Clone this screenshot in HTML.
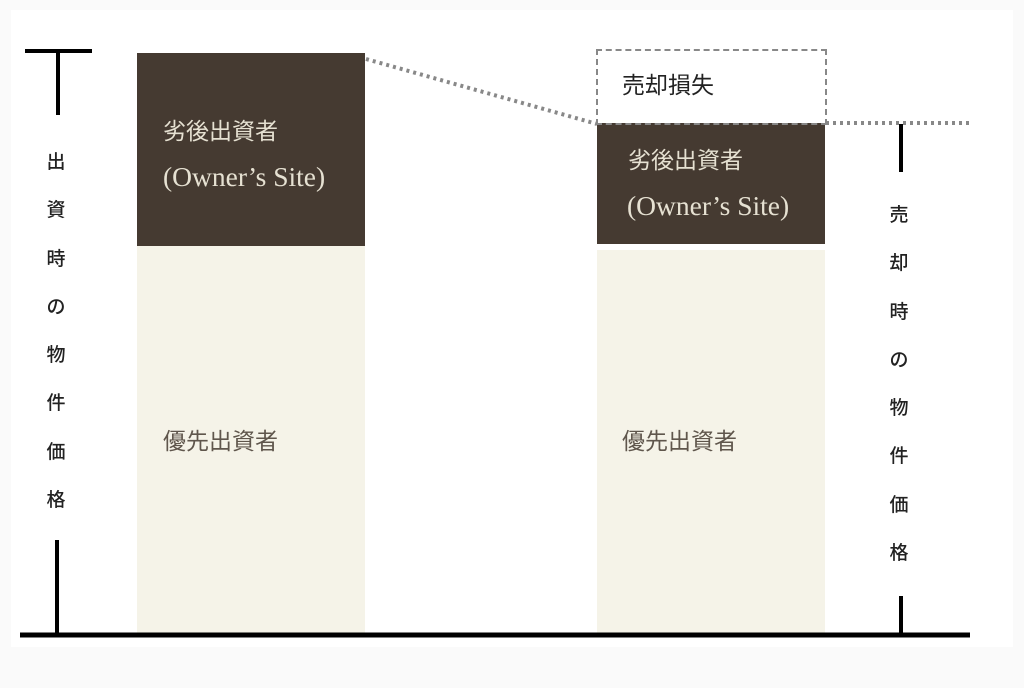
<!DOCTYPE html>
<html><head><meta charset="utf-8"><style>
html,body{margin:0;padding:0}
body{width:1024px;height:688px;background:#fafafa;position:relative;overflow:hidden;font-family:"Liberation Serif","Noto Sans CJK JP",serif}
.a{position:absolute}
.jp{font-family:"Liberation Serif","Noto Sans CJK JP",sans-serif}
.v{position:absolute;width:30px;text-align:center;font-family:"Noto Sans CJK JP",sans-serif;font-size:19px;color:#222;line-height:48.3px;font-weight:500}
</style></head><body>
<div class="a" style="left:11px;top:10px;width:1002px;height:637px;background:#fff"></div>
<div class="a" style="left:137px;top:53px;width:228px;height:193px;background:#453a31"></div>
<div class="a" style="left:137px;top:246px;width:228px;height:387px;background:#f5f3e8"></div>
<div class="a" style="left:597px;top:123px;width:228px;height:121px;background:#453a31"></div>
<div class="a" style="left:597px;top:250px;width:228px;height:383px;background:#f5f3e8"></div>
<div class="a" style="left:596px;top:49px;width:227px;height:72px;border:2px dashed #888"></div>
<svg class="a" style="left:0;top:0" width="1024" height="688">
<line x1="366" y1="59" x2="597" y2="124" stroke="#888" stroke-width="4" stroke-dasharray="3 4"/>
<line x1="826" y1="123" x2="972" y2="123" stroke="#888" stroke-width="4" stroke-dasharray="3 4"/>
<line x1="20" y1="635" x2="970" y2="635" stroke="#000" stroke-width="5"/>
<line x1="25" y1="51" x2="92" y2="51" stroke="#000" stroke-width="4"/>
<line x1="58" y1="51" x2="58" y2="115" stroke="#000" stroke-width="4"/>
<line x1="57" y1="540" x2="57" y2="635" stroke="#000" stroke-width="4"/>
<line x1="901" y1="124" x2="901" y2="172" stroke="#000" stroke-width="4"/>
<line x1="901" y1="596" x2="901" y2="635" stroke="#000" stroke-width="4"/>
</svg>
<div class="a jp" style="left:163px;top:116px;color:#e6e1d2;font-size:23px;line-height:32px">劣後出資者</div>
<div class="a" style="left:163px;top:161px;color:#e6e1d2;font-size:27.5px;font-family:'Liberation Serif',serif">(Owner’s Site)</div>
<div class="a jp" style="left:628px;top:145px;color:#e6e1d2;font-size:23px;line-height:32px">劣後出資者</div>
<div class="a" style="left:627px;top:190px;color:#e6e1d2;font-size:27.5px;font-family:'Liberation Serif',serif">(Owner’s Site)</div>
<div class="a jp" style="left:163px;top:426px;color:#5f564c;font-size:23px;line-height:32px">優先出資者</div>
<div class="a jp" style="left:622px;top:426px;color:#5f564c;font-size:23px;line-height:32px">優先出資者</div>
<div class="a jp" style="left:622px;top:70px;color:#222;font-size:23px;line-height:32px">売却損失</div>
<div class="v" style="left:41px;top:137px">出<br>資<br>時<br>の<br>物<br>件<br>価<br>格</div>
<div class="v" style="left:884px;top:190px">売<br>却<br>時<br>の<br>物<br>件<br>価<br>格</div>
</body></html>
